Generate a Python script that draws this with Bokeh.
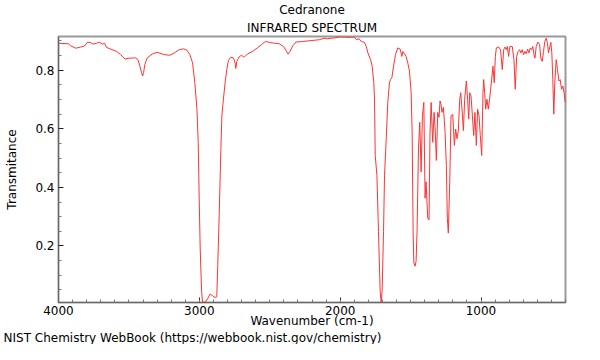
from bokeh.plotting import figure
from bokeh.models import Range1d, FixedTicker, Title
from bokeh.embed import file_html
from bokeh.resources import INLINE

title_main = "Cedranone"
title_sub = "INFRARED SPECTRUM"
x_label = "Wavenumber (cm-1)"
y_label = "Transmitance"
source_note = "NIST Chemistry WebBook (https://webbook.nist.gov/chemistry)"

x_ticks = [1000, 2000, 3000, 4000]
x_minor = list(range(400, 4001, 100))
y_ticks = [0.2, 0.4, 0.6, 0.8]
y_minor = [0.05, 0.1, 0.15, 0.25, 0.3, 0.35, 0.45, 0.5, 0.55, 0.65, 0.7, 0.75, 0.85, 0.9]

wavenumber = [
    4000, 3929, 3913, 3877, 3842, 3814, 3795, 3776, 3755, 3731, 3707, 3688, 3672, 3660,
    3629, 3587, 3559, 3528, 3500, 3453, 3436, 3422, 3410, 3403, 3396, 3387, 3370, 3335,
    3300, 3249, 3209, 3178, 3143, 3112, 3088, 3067, 3048, 3032, 3017, 3008, 3001, 2994,
    2984, 2977, 2958, 2942, 2923, 2906, 2888, 2876, 2869, 2859, 2847, 2840, 2829, 2817,
    2805, 2793, 2777, 2758, 2746, 2741, 2734, 2718, 2701, 2682, 2659, 2623, 2588, 2559,
    2531, 2503, 2467, 2432, 2403, 2385, 2370, 2356, 2337, 2314, 2266, 2207, 2148, 2113,
    2089, 2066, 2042, 2007, 1971, 1936, 1900, 1884, 1865, 1850, 1827, 1815, 1803, 1784,
    1773, 1761, 1756, 1751, 1739, 1728, 1716, 1709, 1702, 1692, 1685, 1673, 1662, 1650,
    1643, 1633, 1621, 1607, 1591, 1574, 1562, 1555, 1543, 1532, 1520, 1508, 1496, 1489,
    1482, 1477, 1468, 1461, 1454, 1444, 1435, 1425, 1416, 1406, 1397, 1390, 1378, 1369,
    1362, 1354, 1343, 1333, 1326, 1317, 1307, 1298, 1291, 1284, 1277, 1267, 1255, 1246,
    1239, 1232, 1222, 1213, 1201, 1189, 1180, 1170, 1161, 1151, 1144, 1135, 1125, 1116,
    1104, 1095, 1087, 1080, 1071, 1061, 1052, 1043, 1033, 1024, 1014, 1005, 995, 986,
    981, 974, 967, 958, 948, 939, 929, 922, 915, 906, 898, 891, 875, 861, 849, 839, 830,
    820, 813, 804, 795, 778, 766, 757, 747, 736, 726, 717, 707, 698, 688, 679, 669, 660,
    650, 641, 632, 624, 617, 608, 596, 584, 575, 565, 556, 547, 537, 528, 521, 513, 504,
    497, 490, 483, 476, 466, 457, 447, 438, 428, 419, 410, 402,
]
transmittance = [
    0.892, 0.890, 0.883, 0.875, 0.879, 0.883, 0.895, 0.895, 0.889, 0.892, 0.895, 0.889, 0.892, 0.878,
    0.872, 0.864, 0.853, 0.838, 0.841, 0.842, 0.836, 0.814, 0.791, 0.780, 0.791, 0.819, 0.842, 0.855,
    0.861, 0.853, 0.851, 0.859, 0.870, 0.873, 0.868, 0.853, 0.825, 0.757, 0.667, 0.554, 0.363, 0.193,
    0.046, 0.008, 0.008, 0.019, 0.036, 0.030, 0.024, 0.027, 0.137, 0.306, 0.532, 0.644, 0.701, 0.757,
    0.802, 0.834, 0.844, 0.842, 0.825, 0.806, 0.830, 0.845, 0.851, 0.844, 0.855, 0.864, 0.876, 0.887,
    0.898, 0.895, 0.892, 0.890, 0.881, 0.868, 0.855, 0.864, 0.883, 0.896, 0.898, 0.901, 0.904, 0.909,
    0.907, 0.909, 0.910, 0.913, 0.913, 0.912, 0.913, 0.904, 0.907, 0.898, 0.895, 0.881, 0.859, 0.836,
    0.814, 0.757, 0.701, 0.509, 0.441, 0.250, 0.047, 0.008, 0.047, 0.250, 0.441, 0.566, 0.690, 0.757,
    0.768, 0.774, 0.814, 0.853, 0.876, 0.872, 0.847, 0.864, 0.856, 0.847, 0.825, 0.797, 0.723, 0.588,
    0.250, 0.143, 0.131, 0.148, 0.250, 0.532, 0.622, 0.453, 0.644, 0.690, 0.363, 0.419, 0.295, 0.289,
    0.588, 0.690, 0.554, 0.656, 0.605, 0.492, 0.656, 0.639, 0.695, 0.684, 0.656, 0.673, 0.588, 0.475,
    0.295, 0.244, 0.419, 0.644, 0.650, 0.543, 0.599, 0.566, 0.594, 0.701, 0.723, 0.667, 0.594, 0.701,
    0.763, 0.701, 0.633, 0.723, 0.712, 0.644, 0.577, 0.656, 0.543, 0.667, 0.644, 0.577, 0.509, 0.723,
    0.768, 0.723, 0.667, 0.701, 0.667, 0.701, 0.746, 0.780, 0.814, 0.757, 0.847, 0.876, 0.879, 0.870, 0.802, 0.870, 0.879,
    0.870, 0.881, 0.847, 0.881, 0.881, 0.836, 0.735, 0.847, 0.864, 0.870, 0.859, 0.870, 0.853, 0.864, 0.856, 0.872, 0.859,
    0.876, 0.870, 0.881, 0.853, 0.841, 0.881, 0.896, 0.887, 0.841, 0.830, 0.864, 0.898, 0.909, 0.892, 0.859, 0.876, 0.895,
    0.859, 0.768, 0.650, 0.757, 0.836, 0.802, 0.763, 0.768, 0.735, 0.746, 0.723, 0.690,
]

FONT = "DejaVu Sans"

p = figure(width=584, height=344, output_backend="svg", toolbar_location=None,
           x_range=Range1d(4000, 400), y_range=Range1d(0.007, 0.915),
           min_border_left=58, min_border_right=19, min_border_top=36, min_border_bottom=42)
p.title.visible = False
p.background_fill_color = "white"
p.border_fill_color = "white"
p.outline_line_color = "#999999"
p.outline_line_width = 2
p.grid.visible = False

p.line(wavenumber, transmittance, line_color="#ff3333", line_width=1)

for ax in (p.xaxis[0], p.yaxis[0]):
    ax.axis_line_color = "#666666"
    ax.axis_line_width = 1
    ax.major_tick_in = 5
    ax.major_tick_out = 0
    ax.minor_tick_in = 3
    ax.minor_tick_out = 0
    ax.major_tick_line_color = "#222222"
    ax.minor_tick_line_color = "#777777"
    ax.major_label_text_font = FONT
    ax.major_label_text_font_size = "12px"
    ax.major_label_text_color = "#000000"
    ax.axis_label_text_font = FONT
    ax.axis_label_text_font_size = "12px"
    ax.axis_label_text_font_style = "normal"
    ax.axis_label_text_color = "#000000"

p.xaxis[0].ticker = FixedTicker(ticks=x_ticks, minor_ticks=x_minor)
p.yaxis[0].ticker = FixedTicker(ticks=y_ticks, minor_ticks=y_minor)
p.xaxis[0].axis_label = x_label
p.yaxis[0].axis_label = y_label
p.xaxis[0].major_label_standoff = 3
p.xaxis[0].axis_label_standoff = -4
p.yaxis[0].major_label_standoff = 4
p.yaxis[0].axis_label_standoff = 13

tstyle = dict(text_font=FONT, text_font_size="12px", text_font_style="normal",
              text_color="#000000")
p.add_layout(Title(text=title_sub, align="center", standoff=4, **tstyle), "above")
p.add_layout(Title(text=title_main, align="center", standoff=0, **tstyle), "above")
p.add_layout(Title(text=source_note, align="left", offset=-55, standoff=-3, **tstyle), "below")

open("out.html", "w").write(file_html(p, INLINE))
